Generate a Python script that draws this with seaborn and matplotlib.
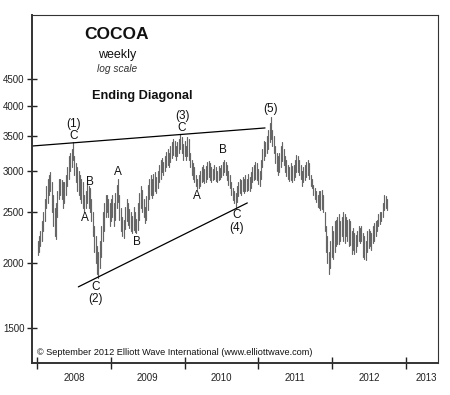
import numpy as np
import pandas as pd
import matplotlib
matplotlib.use("Agg")
import matplotlib.pyplot as plt
import seaborn as sns
from matplotlib.ticker import NullLocator

# ---------------- data (weekly high / low, USD per tonne) ----------------
highs_2008 = [2200, 2250, 2300, 2400, 2500, 2650, 2800, 2900, 2950, 2980,
              2850, 2700, 2550, 2600, 2750, 2900, 2900, 2880, 2850, 2850,
              2950, 3050, 3200, 3250, 3300, 3400, 3200, 3100, 3050, 3000,
              2950, 2900, 2850, 2700, 2750, 2850, 2800, 2780, 2650, 2500,
              2350, 2250, 2150, 2100, 2200, 2350, 2500, 2600, 2700, 2700,
              2650, 2600]
lows_2008 = [2070, 2100, 2150, 2200, 2300, 2400, 2550, 2600, 2700, 2750,
             2500, 2350, 2250, 2220, 2450, 2650, 2700, 2650, 2550, 2600,
             2700, 2800, 2900, 3000, 3050, 3150, 2950, 2850, 2750, 2700,
             2650, 2600, 2550, 2500, 2550, 2600, 2550, 2500, 2400, 2250,
             2100, 2000, 1900, 1870, 1950, 2050, 2200, 2300, 2450, 2500,
             2450, 2350]
highs_2009 = [2650, 2700, 2600, 2720, 2820, 2900, 2700, 2550, 2450, 2420,
              2560, 2650, 2600, 2540, 2500, 2460, 2560, 2500, 2430, 2600,
              2720, 2800, 2760, 2650, 2560, 2680, 2820, 2900, 2950, 2900,
              2960, 2980, 2920, 3000, 3080, 3150, 3180, 3120, 3200, 3260,
              3300, 3250, 3350, 3400, 3450, 3420, 3350, 3400, 3460, 3530,
              3480, 3380]
lows_2009 = [2400, 2450, 2350, 2420, 2550, 2620, 2420, 2300, 2250, 2230,
             2320, 2400, 2360, 2330, 2300, 2280, 2310, 2290, 2280, 2310,
             2420, 2550, 2500, 2450, 2380, 2420, 2520, 2650, 2700, 2660,
             2700, 2750, 2720, 2780, 2850, 2900, 2980, 2950, 3000, 3050,
             3080, 3050, 3120, 3180, 3220, 3200, 3150, 3200, 3250, 3300,
             3250, 3150]
highs_2010 = [3420, 3350, 3480, 3450, 3250, 3150, 3100, 3050, 2950, 2900,
              2950, 3000, 3050, 3080, 3020, 3060, 3120, 3140, 3100, 3050,
              3020, 3080, 3050, 3000, 3060, 3040, 3080, 3120, 3150, 3120,
              3080, 3000, 2950, 2850, 2780, 2750, 2720, 2800, 2850, 2900,
              2880, 2920, 2900, 2950, 2900, 2960, 2920, 2980, 3050, 3080,
              3120, 3100]
lows_2010 = [3200, 3150, 3200, 3150, 3050, 2950, 2900, 2850, 2800, 2770,
             2780, 2800, 2850, 2870, 2840, 2860, 2900, 2920, 2880, 2860,
             2880, 2900, 2870, 2850, 2880, 2890, 2920, 2950, 2980, 2950,
             2880, 2820, 2780, 2700, 2640, 2600, 2560, 2620, 2680, 2720,
             2700, 2740, 2720, 2750, 2740, 2760, 2740, 2780, 2850, 2880,
             2900, 2880]
highs_2011 = [3020, 3000, 3150, 3300, 3420, 3400, 3500, 3590, 3700, 3800,
              3600, 3500, 3350, 3250, 3200, 3250, 3350, 3400, 3300, 3200,
              3150, 3080, 3050, 3100, 3060, 3080, 3150, 3220, 3200, 3150,
              3080, 3000, 3050, 3080, 3120, 3150, 3100, 2950, 2900, 2820,
              2780, 2750, 2700, 2750, 2740, 2760, 2700, 2500, 2350, 2250,
              2100, 2200]
lows_2011 = [2830, 2800, 2900, 3050, 3150, 3200, 3250, 3300, 3400, 3450,
             3350, 3250, 3100, 3000, 2950, 2980, 3050, 3130, 3080, 2980,
             2930, 2900, 2870, 2880, 2860, 2880, 2920, 2980, 2980, 2950,
             2900, 2800, 2850, 2880, 2920, 2950, 2900, 2800, 2780, 2700,
             2650, 2620, 2560, 2550, 2520, 2540, 2500, 2300, 2100, 2000,
             1900, 1950]
highs_2012 = [2350, 2300, 2400, 2420, 2450, 2480, 2400, 2450, 2500, 2480,
              2450, 2420, 2430, 2400, 2300, 2330, 2280, 2260, 2300, 2350,
              2330, 2350, 2280, 2250, 2200, 2300, 2320, 2300, 2280, 2350,
              2380, 2400, 2420, 2480, 2500, 2500, 2600, 2700, 2680, 2650]
lows_2012 = [2050, 2030, 2100, 2150, 2170, 2170, 2200, 2250, 2200, 2180,
             2250, 2200, 2150, 2160, 2080, 2120, 2080, 2100, 2150, 2200,
             2180, 2200, 2050, 2030, 2020, 2100, 2130, 2150, 2120, 2180,
             2200, 2250, 2300, 2350, 2370, 2400, 2450, 2520, 2550, 2520]

first_week = "2008-01-04"

# trend lines of the ending diagonal (fractional year, price)
upper_line_t = [2007.93, 2011.09]
upper_line_p = [3347, 3625]
lower_line_t = [2008.56, 2010.85]
lower_line_p = [1798, 2604]

# wave labels: (text, fractional year, price)
wave_labels = [("(1)", 2008.49, 3689), ("C", 2008.49, 3500),
               ("B", 2008.72, 2856), ("A", 2008.65, 2438),
               ("C", 2008.79, 1798), ("(2)", 2008.79, 1705),
               ("A", 2009.09, 2985), ("B", 2009.36, 2192),
               ("(3)", 2009.97, 3822), ("C", 2009.96, 3625),
               ("A", 2010.17, 2686), ("B", 2010.52, 3290),
               ("C", 2010.70, 2470), ("(4)", 2010.70, 2333),
               ("(5)", 2011.16, 3942)]

price_ticks = [1500, 2000, 2500, 3000, 3500, 4000, 4500]
year_ticks = [2008, 2009, 2010, 2011, 2012, 2013]
year_labels = ["2008", "2009", "2010", "2011", "2012", "2013"]
year_label_pos = [2008.5, 2009.5, 2010.5, 2011.5, 2012.5, 2013.28]

# ---------------- build long table ----------------
highs = highs_2008 + highs_2009 + highs_2010 + highs_2011 + highs_2012
lows = lows_2008 + lows_2009 + lows_2010 + lows_2011 + lows_2012
dates = pd.date_range(first_week, periods=len(highs), freq="7D")
t = dates.year + (dates.dayofyear - 1) / 365.25
weeks = np.arange(len(highs))
df = pd.DataFrame({
    "week": np.concatenate([weeks, weeks]),
    "t": np.concatenate([t, t]),
    "price": np.concatenate([highs, lows]),
})

# ---------------- figure ----------------
sns.set_theme(style="white")
plt.rcParams["font.family"] = ["Liberation Sans", "DejaVu Sans"]

fig = plt.figure(figsize=(4.5, 3.95), dpi=100)
ax = fig.add_axes([32 / 450, 1 - 363 / 395, 406 / 450, 348 / 395])

sns.lineplot(data=df, x="t", y="price", units="week", estimator=None,
             color="#666666", linewidth=0.85, ax=ax, legend=False)
sns.lineplot(x=upper_line_t, y=upper_line_p, color="black", linewidth=0.9, ax=ax)
sns.lineplot(x=lower_line_t, y=lower_line_p, color="black", linewidth=0.9, ax=ax)

ax.set_yscale("log")
ax.set_ylim(1285, 5967)
ax.set_xlim(2007.932, 2013.434)
ax.set_xlabel("")
ax.set_ylabel("")

ax.yaxis.set_minor_locator(NullLocator())
ax.set_yticks(price_ticks)
ax.set_yticklabels([str(v) for v in price_ticks])
ax.set_xticks(year_ticks)
ax.set_xticklabels([""] * len(year_ticks))
ax.set_xticks(year_label_pos, minor=True)
ax.set_xticklabels(year_labels, minor=True)

ax.tick_params(axis="both", which="major", direction="inout", length=8,
               width=1.0, color="#222222", labelsize=7, labelcolor="#222222")
ax.tick_params(axis="y", which="major", pad=2, length=7)
ax.tick_params(axis="x", which="minor", length=0, pad=7, labelsize=7,
               labelcolor="#222222")
ax.tick_params(axis="x", which="major", bottom=True)
ax.tick_params(axis="y", which="major", left=True)

for side in ["left", "bottom"]:
    ax.spines[side].set_linewidth(1.4)
    ax.spines[side].set_color("#333333")
for side in ["top", "right"]:
    ax.spines[side].set_linewidth(0.8)
    ax.spines[side].set_color("#333333")

for txt, tx, ty in wave_labels:
    ax.text(tx, ty, txt, ha="center", va="center", fontsize=8.5, color="#111111")

ax.text(0.209, 0.943, "COCOA", transform=ax.transAxes, ha="center", va="center",
        fontsize=12.5, fontweight="bold", color="#111111")
ax.text(0.209, 0.885, "weekly", transform=ax.transAxes, ha="center", va="center",
        fontsize=9, color="#111111")
ax.text(0.209, 0.845, "log scale", transform=ax.transAxes, ha="center", va="center",
        fontsize=7.3, style="italic", color="#333333")
ax.text(0.271, 0.767, "Ending Diagonal", transform=ax.transAxes, ha="center",
        va="center", fontsize=9.2, fontweight="bold", color="#111111")
ax.text(0.012, 0.029, "\u00a9 September 2012 Elliott Wave International (www.elliottwave.com)",
        transform=ax.transAxes, ha="left", va="center", fontsize=6.6, color="#111111")

fig.savefig("out.png", dpi=100)
